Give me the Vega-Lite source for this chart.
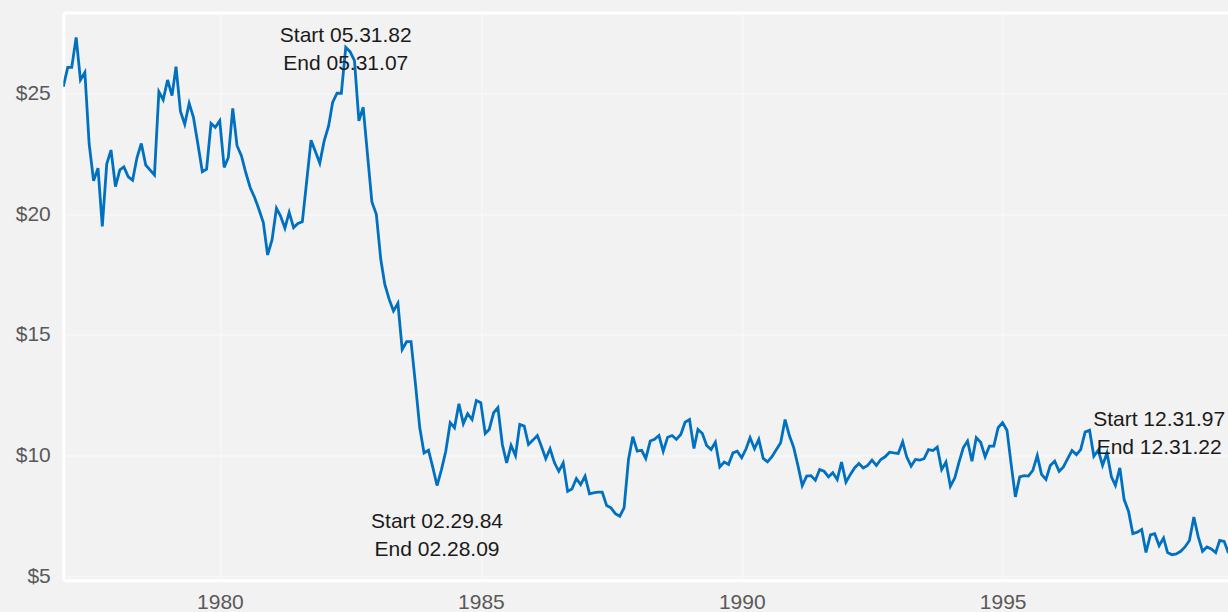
{
  "$schema": "https://vega.github.io/schema/vega-lite/v6.json",
  "width": 1164.7,
  "height": 567.8,
  "autosize": {"type": "none"},
  "padding": {"left": 63.3, "top": 12.5, "right": 0, "bottom": 31.7},
  "background": "#f2f2f2",
  "config": {"view": {"stroke": null, "fill": "#f2f2f2"}, "font": "Liberation Sans"},
  "resolve": {"axis": {"x": "independent", "y": "independent"}},
  "datasets": {
    "prices": [
      {"date":"1976-12-31","price":25.27},
      {"date":"1977-01-31","price":26.07},{"date":"1977-02-28","price":26.07},{"date":"1977-03-31","price":27.31},{"date":"1977-04-30","price":25.55},{"date":"1977-05-31","price":25.86},{"date":"1977-06-30","price":22.9},{"date":"1977-07-31","price":21.38},{"date":"1977-08-31","price":21.9},{"date":"1977-09-30","price":19.49},{"date":"1977-10-31","price":22.07},{"date":"1977-11-30","price":22.65},{"date":"1977-12-31","price":21.14},
      {"date":"1978-01-31","price":21.83},{"date":"1978-02-28","price":21.95},{"date":"1978-03-31","price":21.54},{"date":"1978-04-30","price":21.4},{"date":"1978-05-31","price":22.34},{"date":"1978-06-30","price":22.92},{"date":"1978-07-31","price":22.03},{"date":"1978-08-31","price":21.82},{"date":"1978-09-30","price":21.62},{"date":"1978-10-31","price":25.06},{"date":"1978-11-30","price":24.73},{"date":"1978-12-31","price":25.55},
      {"date":"1979-01-31","price":24.9},{"date":"1979-02-28","price":26.1},{"date":"1979-03-31","price":24.25},{"date":"1979-04-30","price":23.72},{"date":"1979-05-31","price":24.58},{"date":"1979-06-30","price":24.0},{"date":"1979-07-31","price":22.9},{"date":"1979-08-31","price":21.75},{"date":"1979-09-30","price":21.86},{"date":"1979-10-31","price":23.75},{"date":"1979-11-30","price":23.59},{"date":"1979-12-31","price":23.86},
      {"date":"1980-01-31","price":21.93},{"date":"1980-02-29","price":22.34},{"date":"1980-03-31","price":24.37},{"date":"1980-04-30","price":22.83},{"date":"1980-05-31","price":22.41},{"date":"1980-06-30","price":21.72},{"date":"1980-07-31","price":21.1},{"date":"1980-08-31","price":20.69},{"date":"1980-09-30","price":20.2},{"date":"1980-10-31","price":19.65},{"date":"1980-11-30","price":18.31},{"date":"1980-12-31","price":18.93},
      {"date":"1981-01-31","price":20.24},{"date":"1981-02-28","price":19.93},{"date":"1981-03-31","price":19.42},{"date":"1981-04-30","price":20.07},{"date":"1981-05-31","price":19.44},{"date":"1981-06-30","price":19.61},{"date":"1981-07-31","price":19.68},{"date":"1981-08-31","price":21.38},{"date":"1981-09-30","price":23.06},{"date":"1981-10-31","price":22.58},{"date":"1981-11-30","price":22.11},{"date":"1981-12-31","price":23.03},
      {"date":"1982-01-31","price":23.65},{"date":"1982-02-28","price":24.62},{"date":"1982-03-31","price":25.0},{"date":"1982-04-30","price":25.0},{"date":"1982-05-31","price":26.9},{"date":"1982-06-30","price":26.72},{"date":"1982-07-31","price":26.35},{"date":"1982-08-31","price":23.86},{"date":"1982-09-30","price":24.42},{"date":"1982-10-31","price":22.41},{"date":"1982-11-30","price":20.5},{"date":"1982-12-31","price":19.99},
      {"date":"1983-01-31","price":18.13},{"date":"1983-02-28","price":17.1},{"date":"1983-03-31","price":16.47},{"date":"1983-04-30","price":15.99},{"date":"1983-05-31","price":16.31},{"date":"1983-06-30","price":14.4},{"date":"1983-07-31","price":14.72},{"date":"1983-08-31","price":14.72},{"date":"1983-09-30","price":13.02},{"date":"1983-10-31","price":11.16},{"date":"1983-11-30","price":10.12},{"date":"1983-12-31","price":10.23},
      {"date":"1984-01-31","price":9.5},{"date":"1984-02-29","price":8.77},{"date":"1984-03-31","price":9.43},{"date":"1984-04-30","price":10.19},{"date":"1984-05-31","price":11.37},{"date":"1984-06-30","price":11.16},{"date":"1984-07-31","price":12.15},{"date":"1984-08-31","price":11.33},{"date":"1984-09-30","price":11.74},{"date":"1984-10-31","price":11.5},{"date":"1984-11-30","price":12.29},{"date":"1984-12-31","price":12.2},
      {"date":"1985-01-31","price":10.92},{"date":"1985-02-28","price":11.09},{"date":"1985-03-31","price":11.78},{"date":"1985-04-30","price":11.99},{"date":"1985-05-31","price":10.47},{"date":"1985-06-30","price":9.71},{"date":"1985-07-31","price":10.43},{"date":"1985-08-31","price":10.01},{"date":"1985-09-30","price":11.3},{"date":"1985-10-31","price":11.23},{"date":"1985-11-30","price":10.47},{"date":"1985-12-31","price":10.65},
      {"date":"1986-01-31","price":10.84},{"date":"1986-02-28","price":10.4},{"date":"1986-03-31","price":9.88},{"date":"1986-04-30","price":10.29},{"date":"1986-05-31","price":9.71},{"date":"1986-06-30","price":9.36},{"date":"1986-07-31","price":9.71},{"date":"1986-08-31","price":8.53},{"date":"1986-09-30","price":8.63},{"date":"1986-10-31","price":9.06},{"date":"1986-11-30","price":8.81},{"date":"1986-12-31","price":9.16},
      {"date":"1987-01-31","price":8.43},{"date":"1987-02-28","price":8.47},{"date":"1987-03-31","price":8.5},{"date":"1987-04-30","price":8.5},{"date":"1987-05-31","price":7.94},{"date":"1987-06-30","price":7.85},{"date":"1987-07-31","price":7.61},{"date":"1987-08-31","price":7.5},{"date":"1987-09-30","price":7.85},{"date":"1987-10-31","price":9.85},{"date":"1987-11-30","price":10.79},{"date":"1987-12-31","price":10.19},
      {"date":"1988-01-31","price":10.23},{"date":"1988-02-29","price":9.89},{"date":"1988-03-31","price":10.61},{"date":"1988-04-30","price":10.68},{"date":"1988-05-31","price":10.84},{"date":"1988-06-30","price":10.19},{"date":"1988-07-31","price":10.77},{"date":"1988-08-31","price":10.84},{"date":"1988-09-30","price":10.68},{"date":"1988-10-31","price":10.88},{"date":"1988-11-30","price":11.39},{"date":"1988-12-31","price":11.5},
      {"date":"1989-01-31","price":10.3},{"date":"1989-02-28","price":11.09},{"date":"1989-03-31","price":10.92},{"date":"1989-04-30","price":10.43},{"date":"1989-05-31","price":10.26},{"date":"1989-06-30","price":10.56},{"date":"1989-07-31","price":9.54},{"date":"1989-08-31","price":9.74},{"date":"1989-09-30","price":9.64},{"date":"1989-10-31","price":10.12},{"date":"1989-11-30","price":10.19},{"date":"1989-12-31","price":9.92},
      {"date":"1990-01-31","price":10.29},{"date":"1990-02-28","price":10.75},{"date":"1990-03-31","price":10.29},{"date":"1990-04-30","price":10.68},{"date":"1990-05-31","price":9.89},{"date":"1990-06-30","price":9.75},{"date":"1990-07-31","price":9.96},{"date":"1990-08-31","price":10.26},{"date":"1990-09-30","price":10.54},{"date":"1990-10-31","price":11.5},{"date":"1990-11-30","price":10.84},{"date":"1990-12-31","price":10.33},
      {"date":"1991-01-31","price":9.54},{"date":"1991-02-28","price":8.77},{"date":"1991-03-31","price":9.16},{"date":"1991-04-30","price":9.18},{"date":"1991-05-31","price":8.99},{"date":"1991-06-30","price":9.43},{"date":"1991-07-31","price":9.36},{"date":"1991-08-31","price":9.13},{"date":"1991-09-30","price":9.3},{"date":"1991-10-31","price":9.02},{"date":"1991-11-30","price":9.74},{"date":"1991-12-31","price":8.91},
      {"date":"1992-01-31","price":9.23},{"date":"1992-02-29","price":9.5},{"date":"1992-03-31","price":9.68},{"date":"1992-04-30","price":9.5},{"date":"1992-05-31","price":9.6},{"date":"1992-06-30","price":9.82},{"date":"1992-07-31","price":9.6},{"date":"1992-08-31","price":9.85},{"date":"1992-09-30","price":9.96},{"date":"1992-10-31","price":10.15},{"date":"1992-11-30","price":10.12},{"date":"1992-12-31","price":10.1},
      {"date":"1993-01-31","price":10.58},{"date":"1993-02-28","price":9.96},{"date":"1993-03-31","price":9.57},{"date":"1993-04-30","price":9.85},{"date":"1993-05-31","price":9.82},{"date":"1993-06-30","price":9.88},{"date":"1993-07-31","price":10.26},{"date":"1993-08-31","price":10.22},{"date":"1993-09-30","price":10.36},{"date":"1993-10-31","price":9.43},{"date":"1993-11-30","price":9.74},{"date":"1993-12-31","price":8.74},
      {"date":"1994-01-31","price":9.09},{"date":"1994-02-28","price":9.71},{"date":"1994-03-31","price":10.33},{"date":"1994-04-30","price":10.61},{"date":"1994-05-31","price":9.78},{"date":"1994-06-30","price":10.75},{"date":"1994-07-31","price":10.56},{"date":"1994-08-31","price":9.96},{"date":"1994-09-30","price":10.4},{"date":"1994-10-31","price":10.4},{"date":"1994-11-30","price":11.16},{"date":"1994-12-31","price":11.37},
      {"date":"1995-01-31","price":11.06},{"date":"1995-02-28","price":9.71},{"date":"1995-03-31","price":8.3},{"date":"1995-04-30","price":9.13},{"date":"1995-05-31","price":9.18},{"date":"1995-06-30","price":9.16},{"date":"1995-07-31","price":9.4},{"date":"1995-08-31","price":10.01},{"date":"1995-09-30","price":9.23},{"date":"1995-10-31","price":9.02},{"date":"1995-11-30","price":9.6},{"date":"1995-12-31","price":9.78},
      {"date":"1996-01-31","price":9.36},{"date":"1996-02-29","price":9.53},{"date":"1996-03-31","price":9.88},{"date":"1996-04-30","price":10.22},{"date":"1996-05-31","price":10.05},{"date":"1996-06-30","price":10.26},{"date":"1996-07-31","price":10.98},{"date":"1996-08-31","price":11.06},{"date":"1996-09-30","price":9.98},{"date":"1996-10-31","price":10.23},{"date":"1996-11-30","price":9.6},{"date":"1996-12-31","price":10.12},
      {"date":"1997-01-31","price":9.13},{"date":"1997-02-28","price":8.78},{"date":"1997-03-31","price":9.5},{"date":"1997-04-30","price":8.19},{"date":"1997-05-31","price":7.7},{"date":"1997-06-30","price":6.78},{"date":"1997-07-31","price":6.84},{"date":"1997-08-31","price":6.95},{"date":"1997-09-30","price":6.0},{"date":"1997-10-31","price":6.73},{"date":"1997-11-30","price":6.78},{"date":"1997-12-31","price":6.28},
      {"date":"1998-01-31","price":6.6},{"date":"1998-02-28","price":6.0},{"date":"1998-03-31","price":5.91},{"date":"1998-04-30","price":5.94},{"date":"1998-05-31","price":6.05},{"date":"1998-06-30","price":6.23},{"date":"1998-07-31","price":6.5},{"date":"1998-08-31","price":7.47},{"date":"1998-09-30","price":6.67},{"date":"1998-10-31","price":6.05},{"date":"1998-11-30","price":6.23},{"date":"1998-12-31","price":6.15},
      {"date":"1999-01-31","price":6.0},{"date":"1999-02-28","price":6.5},{"date":"1999-03-31","price":6.46},{"date":"1999-04-30","price":5.98}
    ]
  },
  "layer": [
    {
      "data": {"name": "prices"},
      "mark": {"type": "line", "color": "#0070C0", "strokeWidth": 2.8, "clip": true},
      "encoding": {
        "x": {
          "field": "date", "type": "temporal", "title": null,
          "scale": {"type": "utc", "domain": [{"year": 1976, "month": 12, "date": 31, "utc": true}, {"year": 1999, "month": 4, "date": 27, "utc": true}]},
          "axis": {"orient": "bottom", "values": [{"year": 1980, "utc": true}, {"year": 1985, "utc": true}, {"year": 1990, "utc": true}, {"year": 1995, "utc": true}], "format": "%Y", "labelFontSize": 21, "labelColor": "#595959", "ticks": false, "labelPadding": 11, "domainColor": "#ffffff", "domainWidth": 3, "grid": true, "gridColor": "#ffffff", "gridOpacity": 0.6, "gridWidth": 1, "title": null}
        },
        "y": {
          "field": "price", "type": "quantitative", "title": null,
          "scale": {"domain": [4.85, 28.34], "nice": false, "zero": false},
          "axis": {"orient": "left", "values": [5, 10, 15, 20, 25], "format": "$.0f", "labelFontSize": 21, "labelColor": "#595959", "ticks": false, "labelPadding": 13, "domainColor": "#ffffff", "domainWidth": 3, "grid": true, "gridColor": "#ffffff", "gridOpacity": 0.6, "gridWidth": 1, "title": null}
        }
      }
    },
    {
      "data": {"values": [{"date": "1982-05-31", "price": 26.9, "label": "Start 05.31.82\nEnd 05.31.07"}]},
      "mark": {"type": "text", "lineBreak": "\n", "fontSize": 21, "lineHeight": 28.5, "color": "#1a1a1a", "align": "center", "baseline": "middle", "dy": -11.5},
      "encoding": {
        "x": {"field": "date", "type": "temporal", "title": null, "scale": {"type": "utc"},
          "axis": {"orient": "top", "labels": false, "ticks": false, "grid": false, "domainColor": "#ffffff", "domainWidth": 3, "title": null}},
        "y": {"field": "price", "type": "quantitative", "axis": null},
        "text": {"field": "label"}
      }
    },
    {
      "data": {"values": [{"date": "1984-02-29", "price": 8.77, "label": "Start 02.29.84\nEnd 02.28.09"}]},
      "mark": {"type": "text", "lineBreak": "\n", "fontSize": 21, "lineHeight": 28.5, "color": "#1a1a1a", "align": "center", "baseline": "middle", "dy": 36},
      "encoding": {
        "x": {"field": "date", "type": "temporal", "scale": {"type": "utc"}, "axis": null},
        "y": {"field": "price", "type": "quantitative", "axis": null},
        "text": {"field": "label"}
      }
    },
    {
      "data": {"values": [{"date": "1997-12-31", "price": 6.28, "label": "Start 12.31.97\nEnd 12.31.22"}]},
      "mark": {"type": "text", "lineBreak": "\n", "fontSize": 21, "lineHeight": 28.5, "color": "#1a1a1a", "align": "center", "baseline": "middle", "dy": -126},
      "encoding": {
        "x": {"field": "date", "type": "temporal", "scale": {"type": "utc"}, "axis": null},
        "y": {"field": "price", "type": "quantitative", "axis": null},
        "text": {"field": "label"}
      }
    }
  ]
}
